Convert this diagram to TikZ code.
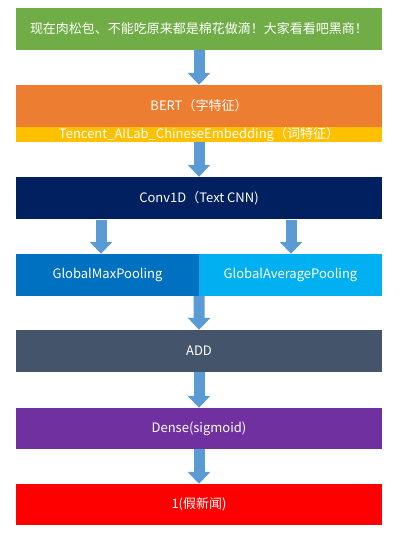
\documentclass[tikz,border=0pt]{standalone}
\usepackage{fontspec}
\setmainfont{Noto Sans CJK SC}
\usetikzlibrary{arrows.meta}
\definecolor{cgreen}{HTML}{70AD47}
\definecolor{corange}{HTML}{ED7D31}
\definecolor{cyellow}{HTML}{FFC000}
\definecolor{cnavy}{HTML}{002060}
\definecolor{cblue}{HTML}{0070C0}
\definecolor{clblue}{HTML}{00B0F0}
\definecolor{cslate}{HTML}{44546A}
\definecolor{cpurple}{HTML}{7030A0}
\definecolor{cred}{HTML}{FF0000}
\definecolor{carrow}{HTML}{5B9BD5}
\tikzset{
  layer/.style={rectangle, inner sep=0pt, minimum width=366pt, minimum height=42pt, text=white, font=\fontsize{13}{15}\selectfont},
  half/.style={layer, minimum width=183pt},
  blockarrow/.style={draw=carrow, line width=11pt, line cap=butt, -{Triangle[width=22pt,length=12pt]}}
}
\begin{document}
\begin{tikzpicture}[x=1pt,y=-1pt]
\useasboundingbox (0,0) rectangle (406,541);
\node[layer, fill=cgreen] (inp) at (199,29) {现在肉松包、不能吃原来都是棉花做滴！大家看看吧黑商！};
\node[layer, fill=corange] (bert) at (199,106) {BERT（字特征）};
\node[layer, fill=cyellow, minimum height=15pt] (tenc) at (199,134.5) {Tencent\_AILab\_ChineseEmbedding（词特征）};
\node[layer, fill=cnavy] (conv) at (199,198) {Conv1D（Text CNN)};
\node[half, fill=cblue] (gmp) at (107.5,275) {GlobalMaxPooling};
\node[half, fill=clblue] (gap) at (290.5,275) {GlobalAveragePooling};
\node[layer, fill=cslate] (add) at (199,351) {ADD};
\node[layer, fill=cpurple, minimum height=41pt] (dense) at (199,428.5) {Dense(sigmoid)};
\node[layer, fill=cred, minimum height=41pt] (out) at (199,504.5) {1(假新闻)};
\coordinate (cl) at ([xshift=-98pt,yshift=-1pt]conv.south);
\coordinate (cr) at ([xshift=92pt,yshift=-1pt]conv.south);
\draw[blockarrow] (inp.south) -- (bert.north);
\draw[blockarrow] (tenc.south) -- (conv.north);
\draw[blockarrow] (cl) -- (cl |- gmp.north);
\draw[blockarrow] (cr) -- (cr |- gap.north);
\draw[blockarrow] (gmp.south east) -- (add.north);
\draw[blockarrow] (add.south) -- (dense.north);
\draw[blockarrow] (dense.south) -- (out.north);
\end{tikzpicture}
\end{document}
